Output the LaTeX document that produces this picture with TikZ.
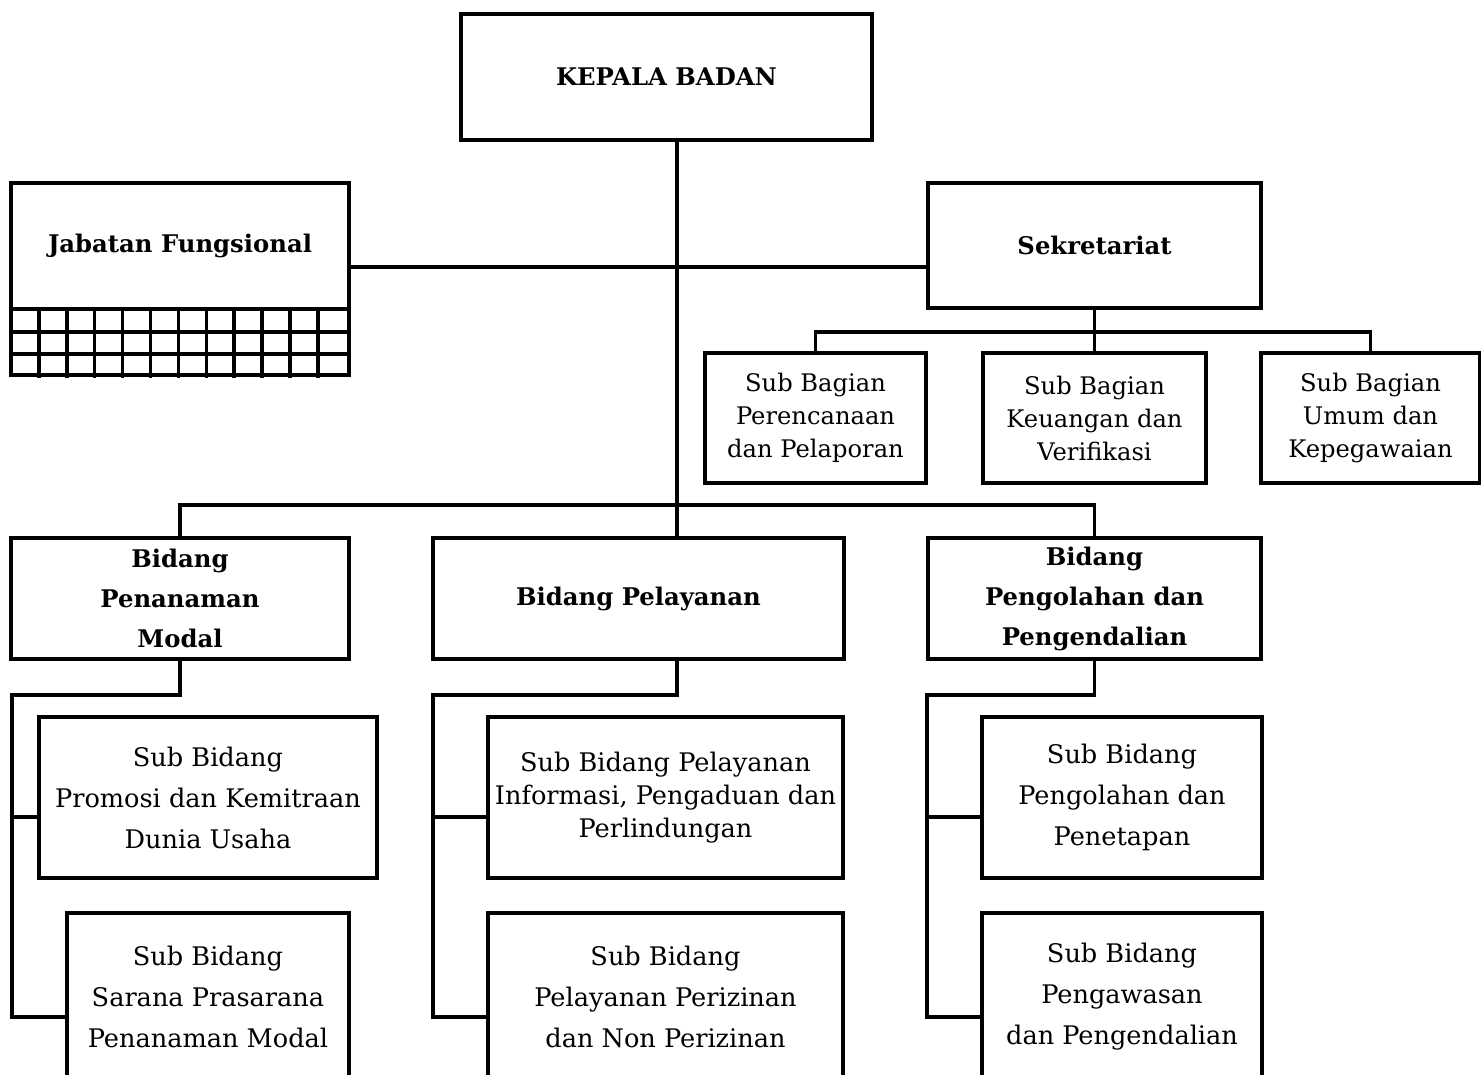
\documentclass[tikz,border=0pt]{standalone}
\usepackage{fontspec}
\setmainfont{DejaVu Serif}
\begin{document}
\begin{tikzpicture}[x=1pt,y=-1pt,
  box/.style={draw, line width=3.5pt, inner sep=0pt, align=center, rectangle},
  hdr/.style={box, font=\fontsize{24.3}{40}\selectfont\bfseries},
  subb/.style={box, font=\fontsize{25.6}{41}\selectfont},
  subg/.style={box, font=\fontsize{24.2}{33}\selectfont},
  subp/.style={box, font=\fontsize{25.6}{33}\selectfont},
  conn/.style={line width=3.5pt}]
\useasboundingbox (0,0) rectangle (1481,1074);
\clip (0,0) rectangle (1481,1074);

% top level
\node[hdr, minimum width=411pt, minimum height=126pt] (kepala) at (666.5,77) {KEPALA BADAN};
\node[hdr, minimum width=338pt, minimum height=126pt] (jab) at (180,246) {Jabatan Fungsional};
\node[draw, line width=3.5pt, inner sep=0pt, minimum width=338pt, minimum height=66pt] (grid) at (180,342) {};
\node[hdr, minimum width=333pt, minimum height=125pt] (sek) at (1094.5,245.5) {Sekretariat};

% grid lines of Jabatan Fungsional
\foreach \yy in {332,354} \draw[conn] (grid.west |- 0,\yy) -- (grid.east |- 0,\yy);
\foreach \k in {1,...,11} \draw[conn] (11+27.9*\k,309) -- (11+27.9*\k,378);

% sub bagian
\node[subg, minimum width=221pt, minimum height=130pt] (sb1) at (815.5,418) {Sub Bagian\\Perencanaan\\dan Pelaporan};
\node[subg, minimum width=223pt, minimum height=130pt] (sb2) at (1094.5,418) {Sub Bagian\\Keuangan dan\\Verifikasi};
\node[subg, minimum width=219pt, minimum height=130pt] (sb3) at (1370.5,418) {Sub Bagian\\Umum dan\\Kepegawaian};

% bidang
\node[hdr, minimum width=338pt, minimum height=121pt] (bid1) at (180,598.5) {Bidang\\Penanaman\\Modal};
\node[hdr, minimum width=411pt, minimum height=121pt] (bid2) at (638.5,598.5) {Bidang Pelayanan};
\node[hdr, minimum width=333pt, minimum height=121pt] (bid3) at (1094.5,598.5) {Bidang\\Pengolahan dan\\Pengendalian};

% sub bidang
\node[subb, minimum width=338pt, minimum height=161pt] (s11) at (208,797.5) {Sub Bidang\\Promosi dan Kemitraan\\Dunia Usaha};
\node[subb, minimum width=282pt, minimum height=168pt] (s12) at (208,997) {Sub Bidang\\Sarana Prasarana\\Penanaman Modal};
\node[subp, minimum width=355pt, minimum height=161pt] (s21) at (665.5,797.5) {Sub Bidang Pelayanan\\Informasi, Pengaduan dan\\Perlindungan};
\node[subb, minimum width=355pt, minimum height=168pt] (s22) at (665.5,997) {Sub Bidang\\Pelayanan Perizinan\\dan Non Perizinan};
\node[subb, minimum width=280pt, minimum height=161pt] (s31) at (1122,797.5) {Sub Bidang\\Pengolahan dan\\Penetapan};
\node[subb, minimum width=280pt, minimum height=168pt] (s32) at (1122,997) {Sub Bidang\\Pengawasan\\dan Pengendalian};

% connector coordinates
\coordinate (t) at (677,267);
\coordinate (tb) at (677,505);
\coordinate (sh) at (1094.5,332);
\coordinate (c1) at (12,695);
\coordinate (c2) at (433,695);
\coordinate (c3) at (927,695);
\coordinate (b11) at ([yshift=-19.5pt]s11.west);
\coordinate (b12) at ([yshift=-20pt]s12.west);
\coordinate (b21) at ([yshift=-19.5pt]s21.west);
\coordinate (b22) at ([yshift=-20pt]s22.west);
\coordinate (b31) at ([yshift=-19.5pt]s31.west);
\coordinate (b32) at ([yshift=-20pt]s32.west);

% trunk and first level
\draw[conn] (kepala.south -| tb) -- (tb) -- (tb |- bid2.north);
\draw[conn] (jab.east |- t) -- (sek.west |- t);
\draw[conn] (sek.south) -- (sh);
\draw[conn] (sb1.north) |- (sh) -| (sb3.north);
\draw[conn] (sh) -- (sb2.north);
\draw[conn] (bid1.north) |- (tb) -| (bid3.north);

% column 1
\draw[conn] (bid1.south) |- (c1) |- (b12);
\draw[conn] (c1 |- b11) -- (b11);
% column 2
\draw[conn] (bid2.south -| tb) |- (c2) |- (b22);
\draw[conn] (c2 |- b21) -- (b21);
% column 3
\draw[conn] (bid3.south) |- (c3) |- (b32);
\draw[conn] (c3 |- b31) -- (b31);
\end{tikzpicture}
\end{document}
